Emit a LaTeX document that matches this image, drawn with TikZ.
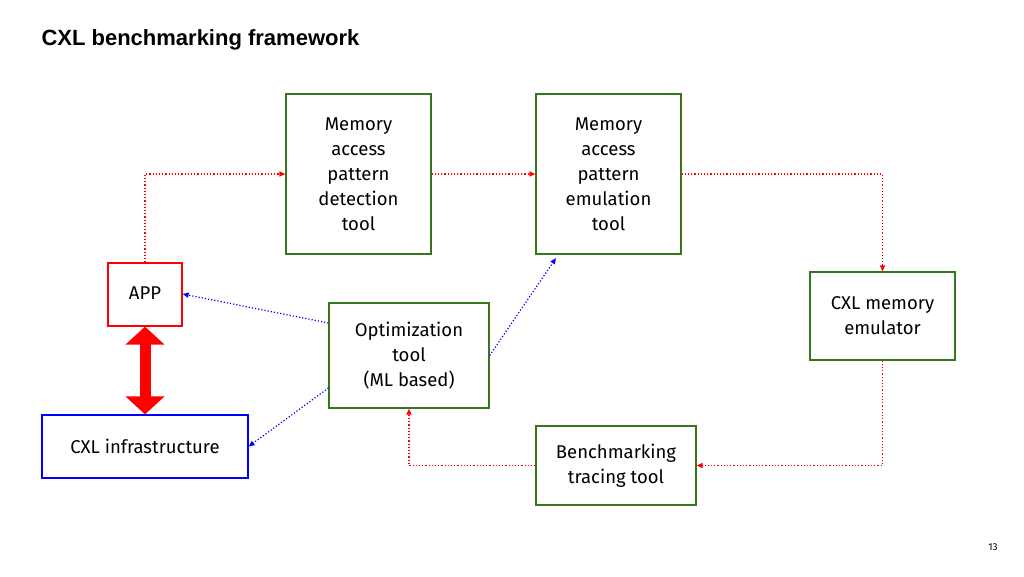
\documentclass[tikz,border=0pt]{standalone}
\usepackage{fontspec}
\setmainfont{Fira Sans}
\newfontfamily\titlefont{Liberation Sans}
\usetikzlibrary{arrows.meta}
\definecolor{gbox}{RGB}{56,118,29}
\begin{document}
\begin{tikzpicture}[x=1pt,y=-1pt,
  box/.style={draw=gbox,line width=1.2pt,align=center,font=\fontsize{18.5}{25}\selectfont,inner sep=0pt},
  rd/.style={red,dotted,line width=1.2pt,-{Triangle[length=6pt,width=5pt]}},
  bd/.style={blue,dotted,line width=1.2pt,-{Triangle[length=6pt,width=5pt]}}]
\useasboundingbox (0,0) rectangle (1024,576);
\node[anchor=west,font=\titlefont\bfseries\fontsize{22}{26}\selectfont] (title) at (38,40) {CXL benchmarking framework};
\node[box,minimum width=145pt,minimum height=160pt] (det) at (358.5,174) {Memory\\access\\pattern\\detection\\tool};
\node[box,minimum width=145pt,minimum height=160pt] (emu) at (608.5,174) {Memory\\access\\pattern\\emulation\\tool};
\node[box,minimum width=145pt,minimum height=88pt] (mem) at (882.5,316) {CXL memory\\emulator};
\node[box,minimum width=160pt,minimum height=79pt] (ben) at (616,465.5) {Benchmarking\\tracing tool};
\node[box,minimum width=160pt,minimum height=105pt] (opt) at (409,355.5) {Optimization\\tool\\(ML based)};
\node[box,draw=red,minimum width=74pt,minimum height=63pt] (app) at (145,294.5) {};
\node[font=\fontsize{18.5}{25}\selectfont] (apptext) at (145,293) {APP};
\node[box,draw=blue,minimum width=206pt,minimum height=63pt] (inf) at (145,446.5) {CXL infrastructure};
\node[font=\fontsize{10}{12}\selectfont] (pg) at (993,547) {13};
\draw[rd] (app.north) |- (det.west);
\draw[rd] (det.east) -- (emu.west);
\draw[rd] (emu.east) -| (mem.north);
\draw[rd] (mem.south) |- (ben.east);
\draw[rd] (ben.west) -| (opt.south);
\draw[bd] (opt.west |- 0,323) -- (app.east |- 0,294);
\draw[bd] (opt.west |- 0,388) -- (inf.east);
\draw[bd] (opt.east) -- (556,258) coordinate (e);
\draw[red,line width=11pt,{Triangle[length=18pt,width=38pt]}-{Triangle[length=18pt,width=38pt]}] (app.south) -- (inf.north);
\end{tikzpicture}
\end{document}
